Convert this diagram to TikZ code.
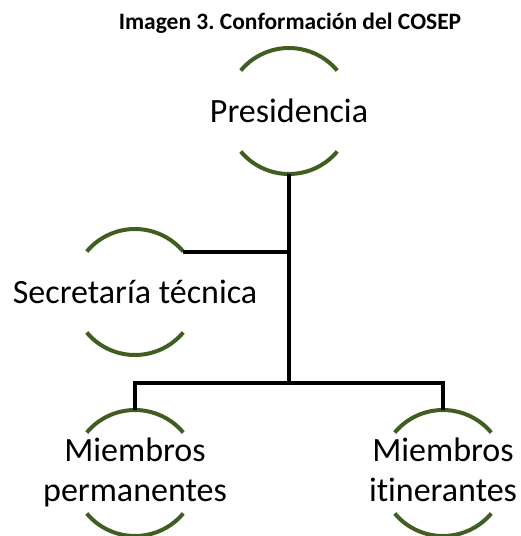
\documentclass[tikz,border=0pt]{standalone}
\usepackage{fontspec}
\setmainfont[RawFeature=-liga]{Carlito}
\usepackage{xcolor}
\definecolor{ringgreen}{RGB}{64,94,34}
\frenchspacing
\tikzset{
  box/.style={shape=circle,minimum size=126pt,inner sep=0pt,outer sep=0pt,
    font=\fontsize{34}{40}\selectfont},
  ring/.style={draw=ringgreen,line width=4pt},
  link/.style={draw=black,line width=4pt}
}

\begin{document}
\begin{tikzpicture}[x=1pt,y=-1pt]
\useasboundingbox (0,0) rectangle (520,536);
\node (title) at (290,23) {\fontsize{23.5}{28}\selectfont\bfseries Imagen 3. Conformación del COSEP};
\node[box] (pres) at (289,111) {\clap{Presidencia}};
\node[box] (sec) at (135,292) {\clap{Secretaría técnica}};
\node[box] (perm) at (135,473) {\clap{\begin{tabular}{@{}c@{}}Miembros\\permanentes\end{tabular}}};
\node[box] (itin) at (443,473) {\clap{\begin{tabular}{@{}c@{}}Miembros\\itinerantes\end{tabular}}};
\coordinate (fork) at (289,383);
% green arcs above and below each text
\foreach \n in {pres,sec,perm,itin} {
  \draw[ring] (\n.140) arc[start angle=140,end angle=40,radius=63pt];
  \draw[ring] (\n.220) arc[start angle=220,end angle=320,radius=63pt];
}
\draw[link] (pres.south) -- (fork);
\draw[link] (sec.40) -- (sec.40 -| pres.south);
\draw[link] (perm.north) |- (fork) -| (itin.north);
\end{tikzpicture}
\end{document}
